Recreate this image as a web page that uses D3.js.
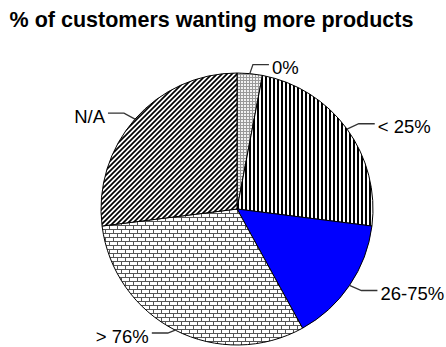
<!DOCTYPE html>
<html>
<head>
<meta charset="utf-8">
<script src="https://cdn.jsdelivr.net/npm/d3@7"></script>
<style>
  html, body { margin: 0; padding: 0; background: #fff; }
  svg { display: block; }
</style>
</head>
<body>
<div id="chart"></div>
<script>
// Share of customers by how many want more products
const categories = ["0%", "< 25%", "26-75%", "> 76%", "N/A"];
const values = [3, 24, 15, 31, 27];
const fills = ["url(#pat-grid)", "url(#pat-vert)", "#0000ff", "url(#pat-brick)", "url(#pat-diag)"];
const title = "% of customers wanting more products";

const width = 446, height = 347;
const cx = 237, cy = 209, r = 136;

const svg = d3.select("#chart").append("svg")
  .attr("width", width).attr("height", height);

// Fill patterns
const defs = svg.append("defs");

const grid = defs.append("pattern").attr("id", "pat-grid")
  .attr("patternUnits", "userSpaceOnUse").attr("width", 3).attr("height", 3);
grid.append("rect").attr("width", 3).attr("height", 3).attr("fill", "#f2f2f2");
grid.append("rect").attr("x", 0).attr("y", 0).attr("width", 3).attr("height", 1).attr("fill", "#999");
grid.append("rect").attr("x", 0).attr("y", 0).attr("width", 1).attr("height", 3).attr("fill", "#999");

const vert = defs.append("pattern").attr("id", "pat-vert")
  .attr("patternUnits", "userSpaceOnUse").attr("width", 4).attr("height", 4);
vert.append("rect").attr("width", 4).attr("height", 4).attr("fill", "#fff");
vert.append("rect").attr("x", 0).attr("width", 2).attr("height", 4).attr("fill", "#000");

const brick = defs.append("pattern").attr("id", "pat-brick")
  .attr("patternUnits", "userSpaceOnUse").attr("width", 8).attr("height", 8);
brick.append("rect").attr("width", 8).attr("height", 8).attr("fill", "#fff");
brick.append("path")
  .attr("d", "M0,0.5H8M0,4.5H8M0.5,0.5V4.5M4.5,4.5V8")
  .attr("stroke", "#555").attr("stroke-width", 1).attr("fill", "none");

const diag = defs.append("pattern").attr("id", "pat-diag")
  .attr("patternUnits", "userSpaceOnUse").attr("width", 5).attr("height", 5);
diag.append("rect").attr("width", 5).attr("height", 5).attr("fill", "#fff");
diag.append("path")
  .attr("d", "M-1.25,1.25L1.25,-1.25M0,5L5,0M3.75,6.25L6.25,3.75")
  .attr("stroke", "#000").attr("stroke-width", 1.7).attr("fill", "none");

// Title
svg.append("text")
  .attr("x", 211.5).attr("y", 27)
  .attr("text-anchor", "middle")
  .attr("font-family", "Liberation Sans, Arial, sans-serif")
  .attr("font-weight", "bold")
  .attr("font-size", 21.5)
  .attr("fill", "#000")
  .text(title);

const data = categories.map((c, i) => ({ label: c, value: values[i], fill: fills[i] }));

const pie = d3.pie().sort(null).value(d => d.value);
const arcs = pie(data);

const arc = d3.arc().innerRadius(0).outerRadius(r);

const g = svg.append("g").attr("transform", `translate(${cx},${cy})`);

g.selectAll("path.slice")
  .data(arcs)
  .join("path")
  .attr("class", "slice")
  .attr("d", arc)
  .attr("fill", d => d.data.fill)
  .attr("stroke", "#000")
  .attr("stroke-width", 1)
  .attr("stroke-linejoin", "round");

// Leader lines and labels
const fs = 18.5;
const mid = d => (d.startAngle + d.endAngle) / 2;
const maxElbowY = height - 14 - cy;   // keep bottom labels inside the canvas

arcs.forEach(d => {
  const a = mid(d);
  const ux = Math.sin(a), uy = -Math.cos(a);
  const right = ux >= 0;
  const p0 = [ux * r, uy * r];
  const p1 = [p0[0] + ux * 12 + (right ? 2 : -2), Math.min(p0[1] + uy * 9, maxElbowY)];
  const p2 = [p1[0] + (right ? 16 : -16), p1[1]];
  g.append("path")
    .attr("d", d3.line()([p0, p1, p2]))
    .attr("fill", "none")
    .attr("stroke", "#333")
    .attr("stroke-width", 1.3);
  g.append("text")
    .attr("x", p2[0] + (right ? 3 : -3))
    .attr("y", p2[1] + 9.5)
    .attr("text-anchor", right ? "start" : "end")
    .attr("font-family", "Liberation Sans, Arial, sans-serif")
    .attr("font-size", fs)
    .attr("fill", "#000")
    .text(d.data.label);
});
</script>
</body>
</html>
